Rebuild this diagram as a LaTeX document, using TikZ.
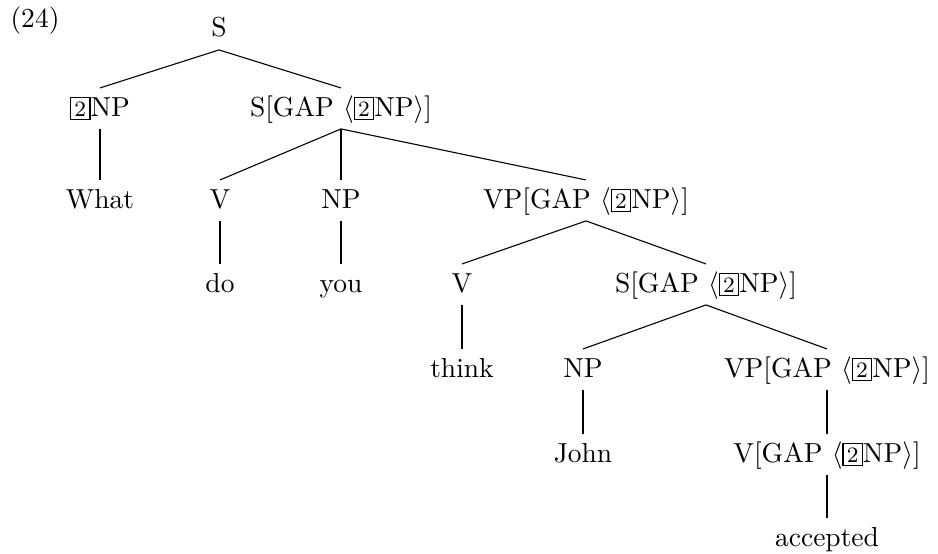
\documentclass[tikz,border=0pt]{standalone}
\usepackage{tikz}

% boxed tag for the shared NP
\newcommand{\tagbox}[1]{{\setlength{\fboxsep}{1.2pt}\fbox{\footnotesize #1}}}
\newcommand{\gapnp}{$\langle$\tagbox{2}NP$\rangle$}

\begin{document}
\begin{tikzpicture}[x=0.3636pt,y=-0.3636pt,
  tn/.style={anchor=base,inner sep=2.5pt,text height=7.5pt,text depth=2pt},
  br/.style={thin}]
\useasboundingbox (0,0) rectangle (938,553);
%%% example number
\node[anchor=base] (exnum) at (35,28) {(24)};
%%% top two levels
\node[tn] (s) at (219,37) {S};
\node[tn] (np1) at (100,116) {\tagbox{2}NP};
\node[tn] (sgap1) at (341,116) {S[GAP \gapnp]};
\node[tn] (what) at (100,208) {What};
\node[tn] (v1) at (220,208) {V};
\node[tn] (np2) at (341,208) {NP};
\node[tn] (vpgap1) at (586,208) {VP[GAP \gapnp]};
%%% embedded clause
\node[tn] (do) at (220,292) {do};
\node[tn] (you) at (341,292) {you};
\node[tn] (v2) at (462,292) {V};
\node[tn] (sgap2) at (706,292) {S[GAP \gapnp]};
\node[tn] (think) at (462,377) {think};
\node[tn] (np3) at (583,377) {NP};
\node[tn] (vpgap2) at (827,377) {VP[GAP \gapnp]};
\node[tn] (john) at (583,462) {John};
\node[tn] (vgap) at (827,462) {V[GAP \gapnp]};
\node[tn] (accepted) at (827,546) {accepted};
%%% branches
\draw[br] (s.south) -- (np1.north);
\draw[br] (s.south) -- (sgap1.north);
\draw[br] (np1.south) -- (what.north);
\draw[br] (sgap1.south) -- (v1.north);
\draw[br] (sgap1.south) -- (np2.north);
\draw[br] (sgap1.south) -- (vpgap1.north);
\draw[br] (v1.south) -- (do.north);
\draw[br] (np2.south) -- (you.north);
\draw[br] (vpgap1.south) -- (v2.north);
\draw[br] (vpgap1.south) -- (sgap2.north);
\draw[br] (v2.south) -- (think.north);
\draw[br] (sgap2.south) -- (np3.north);
\draw[br] (sgap2.south) -- (vpgap2.north);
\draw[br] (np3.south) -- (john.north);
\draw[br] (vpgap2.south) -- (vgap.north);
\draw[br] (vgap.south) -- (accepted.north);
\end{tikzpicture}
\end{document}
